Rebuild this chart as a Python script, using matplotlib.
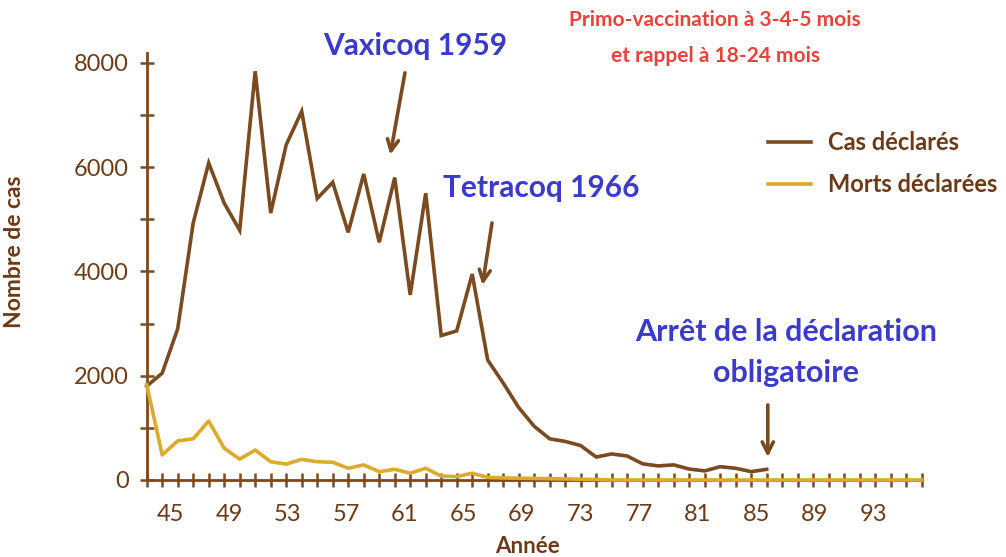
import numpy as np
import matplotlib
matplotlib.use("Agg")
import matplotlib.pyplot as plt

# ---------- data ----------
# one point per axis tick (the x axis is a category axis)
cas = [1800, 2050, 2900, 4930, 6080, 5310, 4790, 7840, 5120, 6430,
       7070, 5400, 5710, 4750, 5870, 4560, 5800, 3550, 5500, 2770,
       2860, 3950, 2300, 1860, 1390, 1030, 790, 740, 660, 440,
       500, 460, 310, 270, 290, 210, 175, 255, 225, 160, 205]
morts = [1830, 480, 750, 790, 1130, 610, 400, 575, 350, 305,
         395, 350, 340, 225, 290, 160, 205, 130, 225, 75,
         65, 130, 50, 40, 35, 30, 25, 20, 15, 10,
         0, 0, 0, 0, 0, 0, 0, 0, 0, 0,
         0, 0, 0, 0, 0, 0, 0, 0, 0, 0, 0]
n_ticks = 50
year_labels = [45, 49, 53, 57, 61, 65, 69, 73, 77, 81, 85, 89, 93]
y_labels = [0, 2000, 4000, 6000, 8000]

BROWN = "#7b4a1e"
TXT = "#6b3a17"
YELLOW = "#dcaa2c"
BLUE = "#3a3acb"
RED = "#e8423c"

plt.rcParams["font.family"] = ["Lato", "DejaVu Sans"]

fig = plt.figure(figsize=(10.06, 5.57), dpi=100)
ax = fig.add_axes([146.7 / 1006, 1 - 480 / 557, 775 / 1006, 427 / 557])

ax.plot(np.arange(len(cas)), cas, color=BROWN, lw=2.6, label="Cas déclarés",
        solid_joinstyle="miter", clip_on=False, zorder=3)
ax.plot(np.arange(len(morts)), morts, color=YELLOW, lw=2.6, label="Morts déclarées",
        clip_on=False, zorder=4)

ax.set_xlim(0, n_ticks)
ax.set_ylim(0, 8190)
ax.set_xticks(range(n_ticks + 1))
ax.set_xticklabels([])
ax.set_yticks(range(0, 9000, 1000))
ax.set_yticklabels([str(v) if v in y_labels else "" for v in range(0, 9000, 1000)])
ax.tick_params(axis="both", direction="inout", length=10, width=1.8, color=BROWN,
               labelcolor=TXT, labelsize=17)
ax.tick_params(axis="y", pad=8)
for s in ["top", "right"]:
    ax.spines[s].set_visible(False)
for s in ["left", "bottom"]:
    ax.spines[s].set_color(BROWN)
    ax.spines[s].set_linewidth(2)

ax.set_ylabel("Nombre de cas", fontsize=16.5, fontweight="bold", color=TXT)
ax.yaxis.set_label_coords(-0.157, 0.534)

# year labels live on their own scale
ax2 = ax.twiny()
ax2.set_xlim(43.35, 96.32)
ax2.xaxis.set_ticks_position("bottom")
ax2.xaxis.set_label_position("bottom")
ax2.set_xticks(year_labels)
ax2.set_xticklabels([str(y) for y in year_labels])
ax2.tick_params(axis="x", length=0, pad=17, labelsize=17, labelcolor=TXT)
for s in ax2.spines.values():
    s.set_visible(False)
ax2.set_xlabel("Année", fontsize=16, fontweight="bold", color=TXT)
ax2.xaxis.set_label_coords(0.492, -0.132)

arrow = dict(arrowstyle="->,head_length=0.8,head_width=0.4", color=BROWN, lw=2.6,
             shrinkA=0, shrinkB=0)
ax2.annotate("", xy=(60.0, 6240), xytext=(61.0, 7810), arrowprops=arrow,
             annotation_clip=False)
ax2.annotate("", xy=(66.3, 3740), xytext=(66.95, 4930), arrowprops=arrow,
             annotation_clip=False)
ax2.annotate("", xy=(85.8, 440), xytext=(85.8, 1440), arrowprops=arrow,
             annotation_clip=False)

ax2.text(61.7, 8330, "Vaxicoq 1959", color=BLUE, fontsize=21.5, fontweight="bold",
         ha="center", va="center", clip_on=False)
ax2.text(70.3, 5600, "Tetracoq 1966", color=BLUE, fontsize=21.5, fontweight="bold",
         ha="center", va="center", clip_on=False)
ax2.text(87.05, 2440, "Arrêt de la déclaration\nobligatoire", color=BLUE, fontsize=22,
         fontweight="bold", ha="center", va="center", linespacing=1.55, clip_on=False)
ax2.text(82.2, 8470, "Primo-vaccination à 3-4-5 mois\net rappel à 18-24 mois", color=RED,
         fontsize=15, fontweight="bold", ha="center", va="center", linespacing=2.0,
         clip_on=False)

leg = ax.legend(loc="upper left", bbox_to_anchor=(768 / 1006, 1 - 131 / 557),
                bbox_transform=fig.transFigure, frameon=False, fontsize=17,
                handlelength=1.8, handletextpad=0.75, labelspacing=0.8,
                borderpad=0, borderaxespad=0)
for t in leg.get_texts():
    t.set_color(TXT)
    t.set_fontweight("bold")

fig.savefig("out.png", dpi=100)
